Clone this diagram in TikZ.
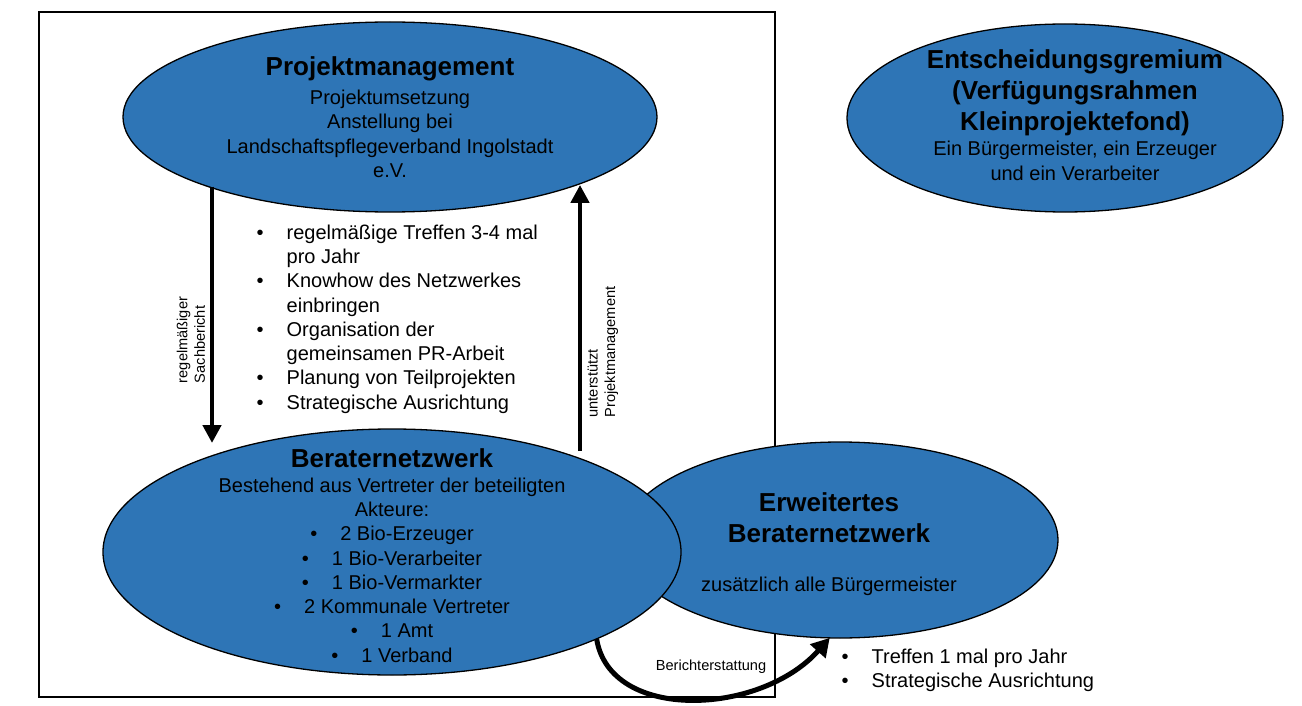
\documentclass[tikz,border=0pt]{standalone}
\usepackage{fontspec}
\setmainfont{Liberation Sans}
\usetikzlibrary{arrows.meta,shapes.geometric}
\definecolor{ellblue}{RGB}{46,117,182}
\newcommand\mybul{\makebox[30pt][l]{\textbullet}}
\begin{document}
\begin{tikzpicture}[x=1pt,y=-1pt,
  ell/.style={ellipse, draw=black, line width=1.3pt, fill=ellblue, inner sep=0pt, outer sep=0pt},
  ttl/.style={font=\fontsize{26}{31.2}\selectfont\bfseries, align=center, inner sep=0pt},
  body/.style={font=\fontsize{20}{24.3}\selectfont, align=center, inner sep=0pt},
  small/.style={font=\fontsize{14.6}{17.5}\selectfont, inner sep=0pt},
  bigarrow/.style={line width=4.5pt, -{Triangle[width=18pt,length=18pt]}},
  curvearrow/.style={line width=5pt, -{Triangle[width=20pt,length=18pt]}},
]
\useasboundingbox (0,0) rectangle (1302,706);
\fill[white] (0,0) rectangle (1302,706);

% frame
\node[draw=black, line width=1.3pt, minimum width=736pt, minimum height=685pt, inner sep=0pt] (frame) at (407,354.5) {};

% ellipses
\node[ell, minimum width=534pt, minimum height=190pt] (pm) at (390,117) {};
\node[ell, minimum width=436pt, minimum height=188pt] (eg) at (1065,118) {};
\node[ell, minimum width=436pt, minimum height=196pt] (ew) at (840,540) {};
\node[ell, minimum width=578pt, minimum height=246pt] (bn) at (392,552) {};

% texts
\node[ttl] (pmt) at (390,69) {Projektmanagement};
\node[body] (pmb) at (390,134) {Projektumsetzung\\Anstellung bei\\Landschaftspflegeverband Ingolstadt\\e.V.};

\node[ttl] (egt) at (1075,93) {Entscheidungsgremium\\(Verfügungsrahmen\\Kleinprojektefond)};
\node[body] (egb) at (1075,161) {Ein Bürgermeister, ein Erzeuger\\und ein Verarbeiter};

\node[ttl] (bnt) at (392,458) {Beraternetzwerk};
\node[body] (bnb) at (392,570) {Bestehend aus Vertreter der beteiligten\\Akteure:\\
\mybul 2 Bio-Erzeuger\\\mybul 1 Bio-Verarbeiter\\\mybul 1 Bio-Vermarkter\\
\mybul 2 Kommunale Vertreter\\\mybul 1 Amt\\\mybul 1 Verband};

\node[ttl] (ewt) at (829,518) {Erweitertes\\Beraternetzwerk};
\node[body] (ewb) at (829,586) {zusätzlich alle Bürgermeister};

\node[body, align=left, anchor=west] (list) at (256.5,319) {\mybul regelmäßige Treffen 3-4 mal\\\hspace*{30pt}pro Jahr\\
\mybul Knowhow des Netzwerkes\\\hspace*{30pt}einbringen\\
\mybul Organisation der\\\hspace*{30pt}gemeinsamen PR-Arbeit\\
\mybul Planung von Teilprojekten\\
\mybul Strategische Ausrichtung};

\node[body, align=left, anchor=west] (list2) at (841.5,670.5) {\mybul Treffen 1 mal pro Jahr\\\mybul Strategische Ausrichtung};

\node[small, align=left, rotate=90] (l1) at (191,340) {regelmäßiger\\Sachbericht};
\node[small, align=left, rotate=90] (l2) at (603,352) {unterstützt\\Projektmanagement};
\node[small] (l3) at (711,667) {Berichterstattung};

% connectors
\coordinate (a1e) at (212,443);
\coordinate (a2s) at (580,451);
\draw[bigarrow] (a1e |- pm.201.7) -- (a1e);
\draw[bigarrow] (a2s) -- (a2s |- pm.340.66);
\draw[curvearrow] (bn.337.3) .. controls (610,722) and (760,716) .. (ew.264.2);
\end{tikzpicture}
\end{document}
